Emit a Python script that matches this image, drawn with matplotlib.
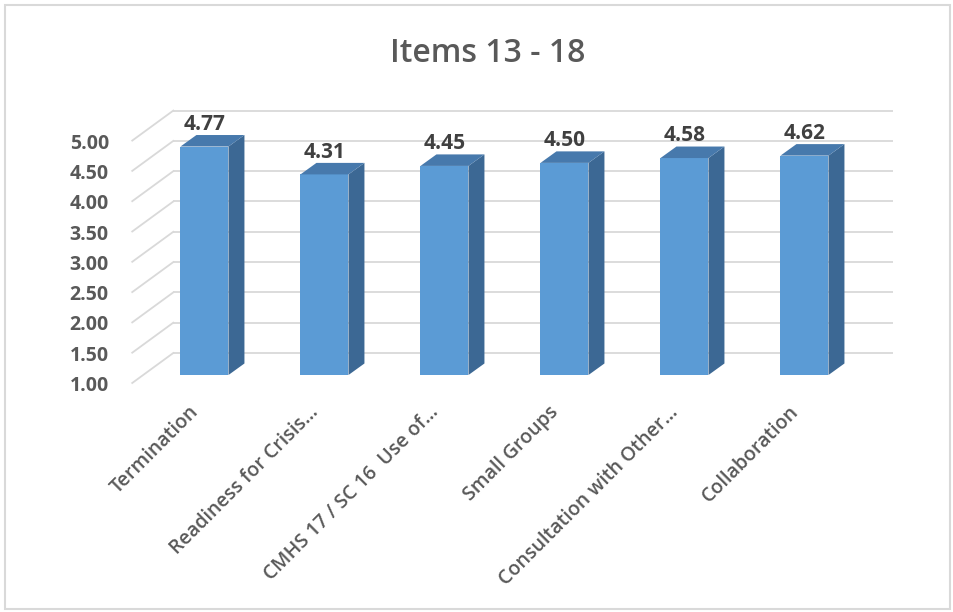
import matplotlib
matplotlib.use("Agg")
import matplotlib.pyplot as plt
from matplotlib.patches import Polygon, Rectangle
import numpy as np

plt.rcParams['font.family'] = ['Open Sans', 'DejaVu Sans']

# ---- data ----
categories = ["Termination", "Readiness for Crisis\u2026", "CMHS 17 / SC 16  Use of\u2026",
              "Small Groups", "Consultation with Other\u2026", "Collaboration"]
scores = [4.77, 4.31, 4.45, 4.50, 4.58, 4.62]
ytick_values = [1.00, 1.50, 2.00, 2.50, 3.00, 3.50, 4.00, 4.50, 5.00]
title = "Items 13 - 18"

# ---- style ----
front_color = "#5B9BD5"
side_color = "#3C6894"
top_color = "#4779AC"
grid_color = "#D9D9D9"
text_color = "#595959"
value_color = "#404040"

base = 1.0
bar_w = 0.40
# oblique depth of one bar (category units, value units)
bar_dx, bar_dy = 0.133, 0.19
# offset of back wall and front edge from the plane of the bar fronts
back_dx, back_dy = 0.25, 0.363
front_dx, front_dy = -0.092, -0.132
x_left, x_right = -0.51, 5.49

fig = plt.figure(figsize=(9.54, 6.12), dpi=100)
ax = fig.add_axes([0, 0, 1, 1])
ax.set_xlim(-1.704, 6.246)
ax.set_ylim(-2.911, 7.188)
ax.axis("off")

x = np.arange(len(categories))

# back wall gridlines and the oblique connectors to the value labels
for v in ytick_values:
    ax.plot([x_left + back_dx, x_right + back_dx], [v + back_dy, v + back_dy],
            color=grid_color, lw=1.3, zorder=1, solid_capstyle="butt")
    ax.plot([x_left + front_dx, x_left + back_dx], [v + front_dy, v + back_dy],
            color=grid_color, lw=1.3, zorder=1)
    ax.text(x_left + front_dx - 0.195, v + front_dy - 0.05, f"{v:.2f}",
            ha="right", va="center", fontsize=14, fontweight="bold", color=text_color)

# bars: front face, side face, top face
heights = np.array(scores) - base
ax.bar(x, heights, bottom=base, width=bar_w, color=front_color, zorder=3, linewidth=0)
for xi, v in zip(x, scores):
    r = xi + bar_w / 2
    l = xi - bar_w / 2
    side = Polygon([(r, base), (r, v), (r + bar_dx, v + bar_dy), (r + bar_dx, base + bar_dy)],
                   closed=True, facecolor=side_color, edgecolor="none", zorder=3)
    top = Polygon([(l, v), (r, v), (r + bar_dx, v + bar_dy), (l + bar_dx, v + bar_dy)],
                  closed=True, facecolor=top_color, edgecolor="none", zorder=3)
    ax.add_patch(side)
    ax.add_patch(top)
    ax.text(xi, v + 0.275, f"{v:.2f}", ha="center", va="baseline",
            fontsize=15, fontweight="bold", color=value_color, zorder=4)

# category labels
for xi, name in zip(x, categories):
    ax.text(xi + front_dx - 0.04, base - 0.45, name, rotation=45, rotation_mode="anchor",
            ha="right", va="top", fontsize=14, fontweight="semibold", color=text_color)

fig.text(0.511, 0.913, title, ha="center", va="center", fontsize=23,
         fontweight="semibold", color=text_color)

# chart frame
fig.patches.append(Rectangle((5 / 954, 3 / 612), 945 / 954, 604 / 612,
                             transform=fig.transFigure, fill=False,
                             edgecolor=grid_color, lw=1.5))

fig.savefig("out.png", dpi=100, facecolor="white")
